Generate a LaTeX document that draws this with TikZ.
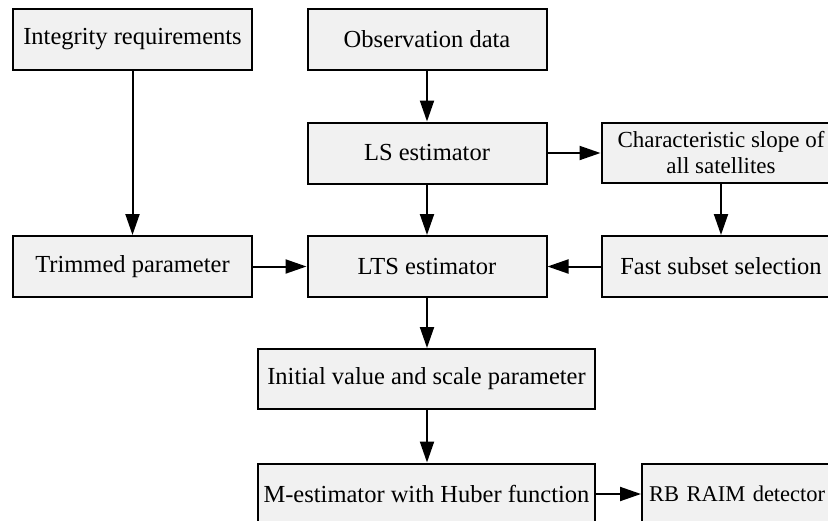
\documentclass[tikz,border=0pt]{standalone}
\usepackage{fontspec}
\setmainfont{Liberation Serif}
\usetikzlibrary{arrows.meta}
\definecolor{boxgray}{HTML}{F1F1F1}
\tikzset{
  box/.style={draw=black, line width=2pt, fill=boxgray, minimum height=61pt, inner sep=0pt, align=center, font=\fontsize{24.5}{26.5}\selectfont},
  edgetext/.style={font=\fontsize{23}{26}\selectfont},
  rbtext/.style={font=\fontsize{22.5}{26}\selectfont},
  flow/.style={line width=2pt, -{Triangle[length=21pt,width=14pt]}}
}
\begin{document}
\begin{tikzpicture}[x=1pt,y=-1pt]
\useasboundingbox (0,0) rectangle (828,520);
\clip (0,0) rectangle (828,520);
\node[box, minimum width=239pt] (integ) at (132.5,39.5) {Integrity requirements};
\node[box, minimum width=239pt] (obs) at (427,39.5) {Observation data};
\node[box, minimum width=239pt] (ls) at (427,153) {LS estimator};
\node[box, edgetext, minimum width=239pt, minimum height=60pt] (slope) at (721,153) {Characteristic slope of\\all satellites};
\node[box, minimum width=239pt] (trim) at (132.5,266.5) {Trimmed parameter};
\node[box, minimum width=239pt] (lts) at (427,266.5) {LTS estimator};
\node[box, minimum width=239pt] (fast) at (721,266.5) {Fast subset selection};
\node[box, minimum width=337pt, minimum height=60pt] (init) at (426.5,379) {Initial value and scale parameter};
\node[box, minimum width=337pt] (mest) at (426.5,494) {M-estimator with Huber function};
\node[box, rbtext, anchor=west, text width=190pt, align=left, inner xsep=7pt] (rb) at (641,494) {RB RAIM detector};
\draw[flow] (integ) -- (trim);
\draw[flow] (obs) -- (ls);
\draw[flow] (ls) -- (slope);
\draw[flow] (ls) -- (lts);
\draw[flow] (slope) -- (fast);
\draw[flow] (trim) -- (lts);
\draw[flow] (fast) -- (lts);
\draw[flow] (lts.south) -- (init.north -| lts.south);
\draw[flow] (init.south -| lts.south) -- (mest.north -| lts.south);
\draw[flow] (mest) -- (rb);
\end{tikzpicture}
\end{document}
